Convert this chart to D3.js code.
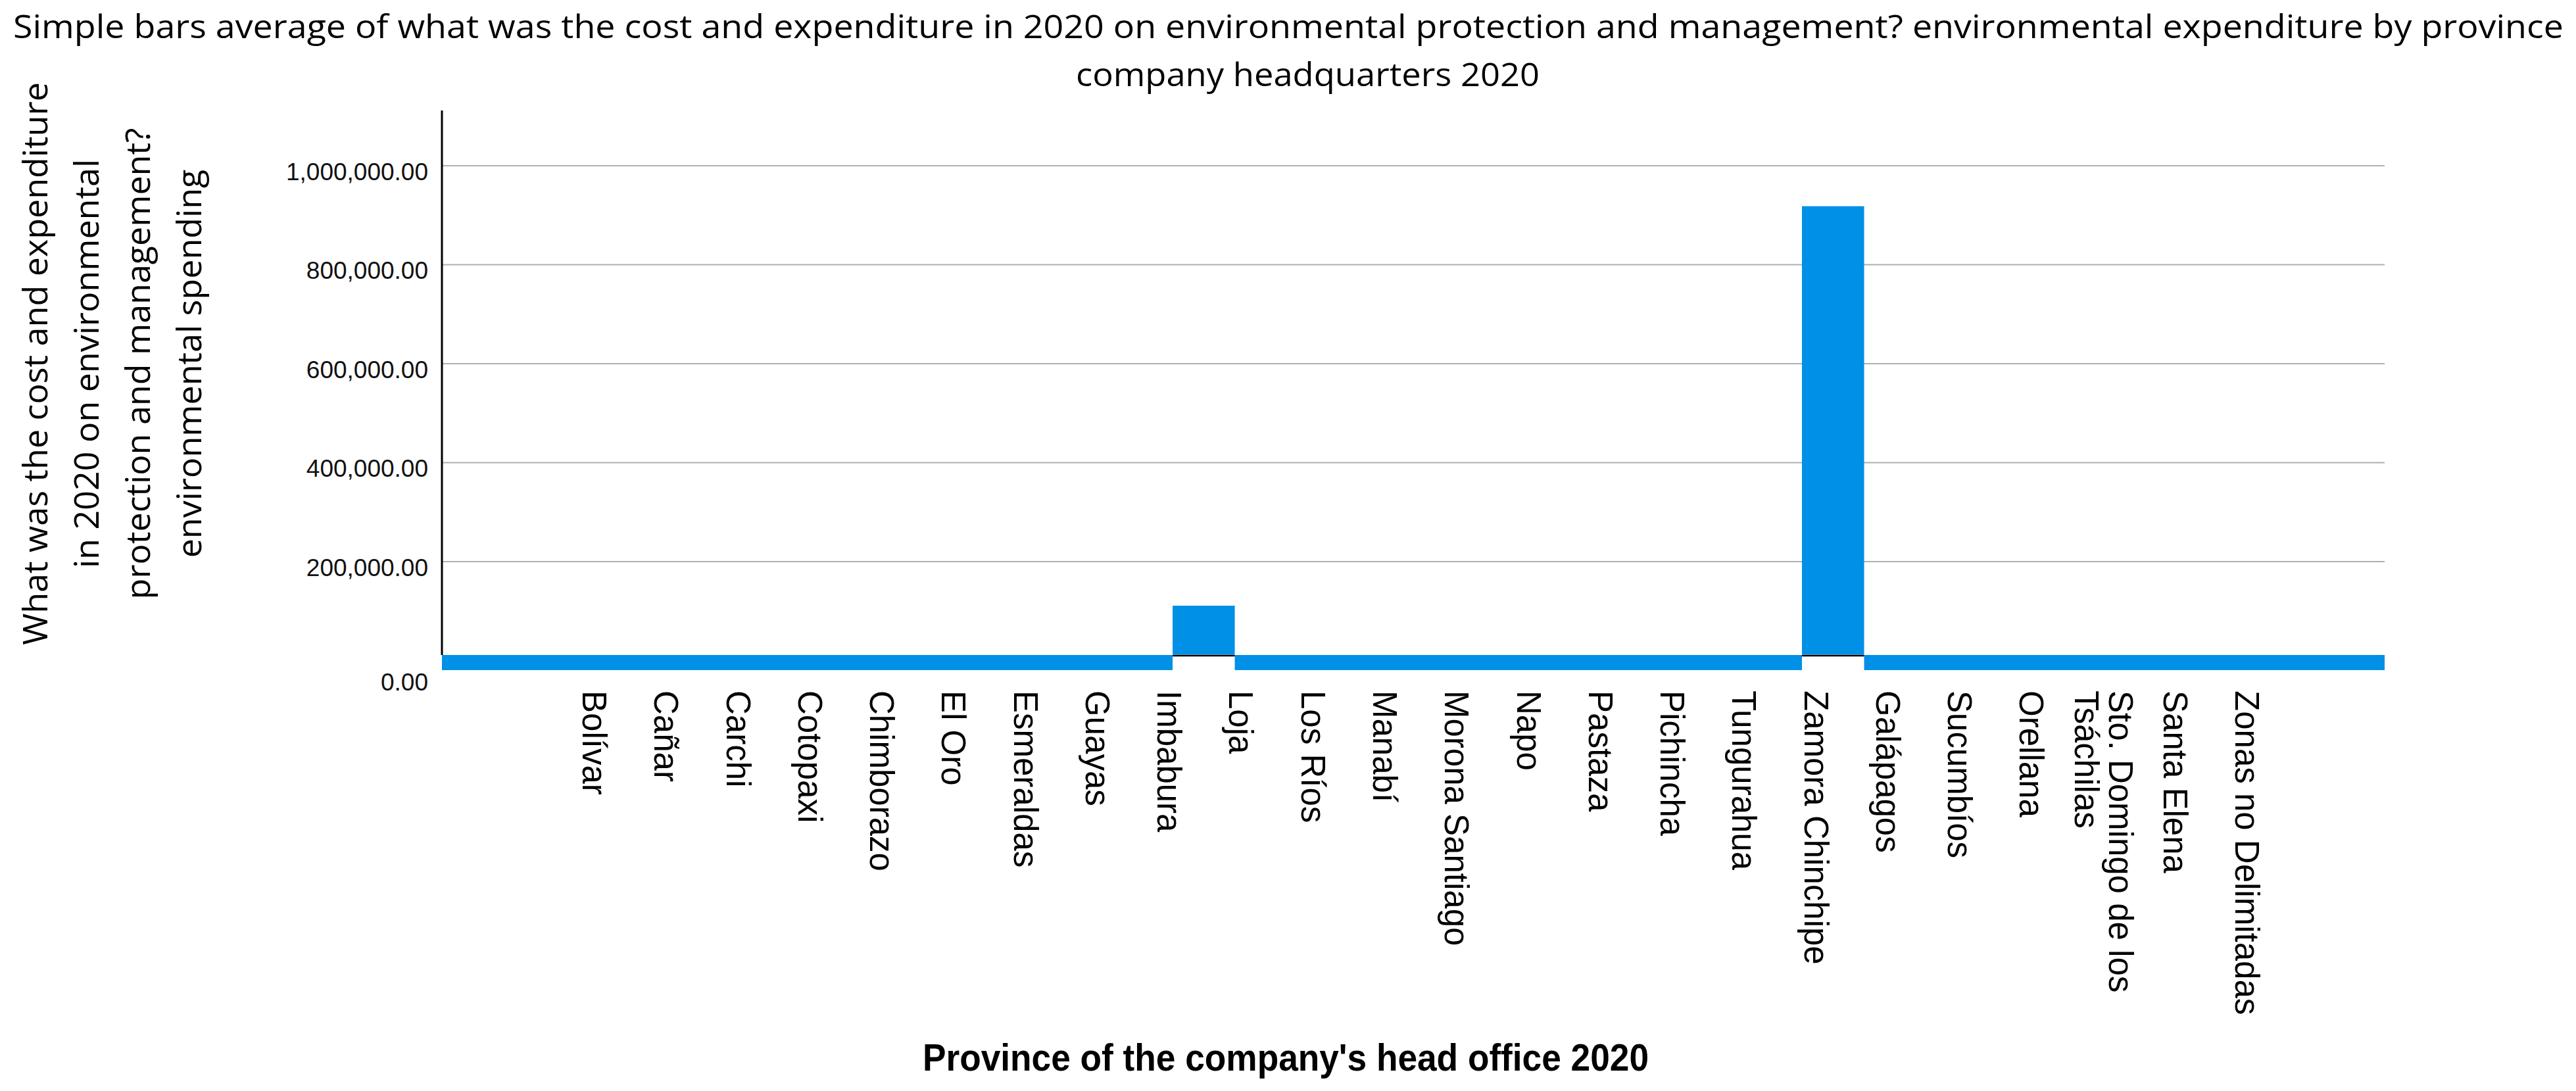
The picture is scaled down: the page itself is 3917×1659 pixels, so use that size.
<!DOCTYPE html>
<meta charset="utf-8">
<style>
body {
    margin: 0;
    background: #fff;
}
svg {
    display: block;
}
.grid line {
    stroke: #b0b0b0;
    stroke-width: 2px;
}
.bar, .floor {
    fill: #0090e6;
}
.title {
    font-family: 'Open Sans', sans-serif;
    font-size: 50px;
    fill: #000;
}
.ytitle {
    font-family: 'Open Sans', sans-serif;
    font-size: 52px;
    fill: #000;
}
.yaxis text {
    font-family: 'Liberation Sans', Arial, sans-serif;
    font-size: 37px;
    fill: #111;
}
.xlabel {
    font-family: 'Liberation Sans', Arial, sans-serif;
    font-size: 51px;
    fill: #000;
}
.xtitle {
    font-family: 'Liberation Sans', Arial, sans-serif;
    font-size: 58px;
    font-weight: bold;
    fill: #000;
}
</style>
<svg width="3917" height="1659"></svg>

<script src="https://cdn.jsdelivr.net/npm/d3@7"></script>
<script>
const provinces = [
    'Bolívar', 'Cañar', 'Carchi', 'Cotopaxi', 'Chimborazo', 'El Oro',
    'Esmeraldas', 'Guayas', 'Imbabura', 'Loja', 'Los Ríos', 'Manabí',
    'Morona Santiago', 'Napo', 'Pastaza', 'Pichincha', 'Tungurahua',
    'Zamora Chinchipe', 'Galápagos', 'Sucumbíos', 'Orellana',
    'Sto. Domingo de los\nTsáchilas', 'Santa Elena', 'Zonas no Delimitadas'
];
// mean environmental spending per province
const meanSpending = [
    0, 0, 0, 0, 0, 0,
    0, 0, 110900, 0, 0, 0,
    0, 0, 0, 0, 0,
    918200, 0, 0, 0,
    0, 0, 0
];
const yTicks = [0, 200000, 400000, 600000, 800000, 1000000];

const titleLines = [
    'Simple bars average of what was the cost and expenditure in 2020 on environmental protection and management?  environmental expenditure by province',
    'company headquarters 2020'
];
const yTitleLines = [
    'What was the cost and expenditure',
    'in 2020 on environmental',
    'protection and management?',
    'environmental spending'
];
const xTitle = "Province of the company's head office 2020";

let svg = d3.select('svg');

// plot frame
const plotLeft = 672, plotRight = 3626, plotTop = 168;
const floorTop = 996, floorBottom = 1019, baseY = 997;

let y = d3.scaleLinear()
    .domain([0, 1000000])
    .range([1004.5, 252]);

let xBar = d3.scaleBand()
    .domain(provinces)
    .range([932.4, 3472.5])
    .paddingInner(0.111)
    .paddingOuter(0);

let xLabel = d3.scalePoint()
    .domain(provinces)
    .range([904, 3417]);

let rows = provinces.map((p, i) => ({name: p, value: meanSpending[i]}));
let positive = rows.filter(d => d.value > 0);

// gridlines
svg.append('g').attr('class', 'grid')
    .selectAll('line')
    .data(yTicks.filter(t => t > 0))
    .enter().append('line')
        .attr('x1', plotLeft)
        .attr('x2', plotRight)
        .attr('y1', d => y(d))
        .attr('y2', d => y(d));

// floor band along the bottom of the plot
svg.append('rect').attr('class', 'floor')
    .attr('x', plotLeft)
    .attr('y', floorTop)
    .attr('width', plotRight - plotLeft)
    .attr('height', floorBottom - floorTop);

svg.append('g')
    .selectAll('rect')
    .data(positive)
    .enter().append('rect')
        .attr('x', d => xBar(d.name))
        .attr('y', floorTop - 1)
        .attr('width', xBar.bandwidth())
        .attr('height', floorBottom - floorTop + 2)
        .attr('fill', '#fff');

// bars
svg.append('g')
    .selectAll('rect')
    .data(positive)
    .enter().append('rect')
        .attr('class', 'bar')
        .attr('x', d => xBar(d.name))
        .attr('y', d => y(d.value))
        .attr('width', xBar.bandwidth())
        .attr('height', d => baseY - 1.5 - y(d.value));

svg.append('g')
    .selectAll('line')
    .data(positive)
    .enter().append('line')
        .attr('x1', d => xBar(d.name))
        .attr('x2', d => xBar(d.name) + xBar.bandwidth())
        .attr('y1', baseY)
        .attr('y2', baseY)
        .attr('stroke', '#000')
        .attr('stroke-width', 2.5);

// y axis
svg.append('line')
    .attr('x1', plotLeft).attr('x2', plotLeft)
    .attr('y1', plotTop).attr('y2', floorTop)
    .attr('stroke', '#000')
    .attr('stroke-width', 3);

let yAxis = svg.append('g').attr('class', 'yaxis')
    .attr('transform', `translate(${plotLeft},0)`)
    .call(d3.axisLeft(y)
        .tickValues(yTicks)
        .tickSize(0)
        .tickPadding(21)
        .tickFormat(d3.format(',.2f')));
yAxis.select('.domain').remove();
yAxis.selectAll('text')
    .attr('font-family', null)
    .attr('font-size', null)
    .attr('dy', '0.58em');
yAxis.selectAll('.tick').filter(d => d === 0).select('text')
    .attr('y', 24);

// x labels
let labels = svg.append('g')
    .selectAll('g')
    .data(provinces)
    .enter().append('g')
        .attr('transform', d => `translate(${xLabel(d)},1050) rotate(90)`);
labels.each(function(d) {
    let parts = d.split('\n');
    d3.select(this).selectAll('text')
        .data(parts)
        .enter().append('text')
            .attr('class', 'xlabel')
            .attr('y', (p, k) => (k - (parts.length - 1) / 2) * 52)
            .attr('dy', '0.35em')
            .text(p => p);
});

// titles
svg.append('text').attr('class', 'title')
    .attr('x', 20).attr('y', 58)
    .attr('textLength', 3878)
    .attr('lengthAdjust', 'spacingAndGlyphs')
    .text(titleLines[0]);
svg.append('text').attr('class', 'title')
    .attr('x', 1636).attr('y', 131)
    .attr('textLength', 705)
    .attr('lengthAdjust', 'spacingAndGlyphs')
    .text(titleLines[1]);

let yt = svg.append('g')
    .attr('transform', 'translate(72,553) rotate(-90)');
yt.selectAll('text')
    .data(yTitleLines)
    .enter().append('text')
        .attr('class', 'ytitle')
        .attr('text-anchor', 'middle')
        .attr('y', (d, k) => k * 78.1)
        .text(d => d);

svg.append('text').attr('class', 'xtitle')
    .attr('x', 1955 - 552).attr('y', 1628)
    .attr('textLength', 1104)
    .attr('lengthAdjust', 'spacingAndGlyphs')
    .text(xTitle);
</script>
